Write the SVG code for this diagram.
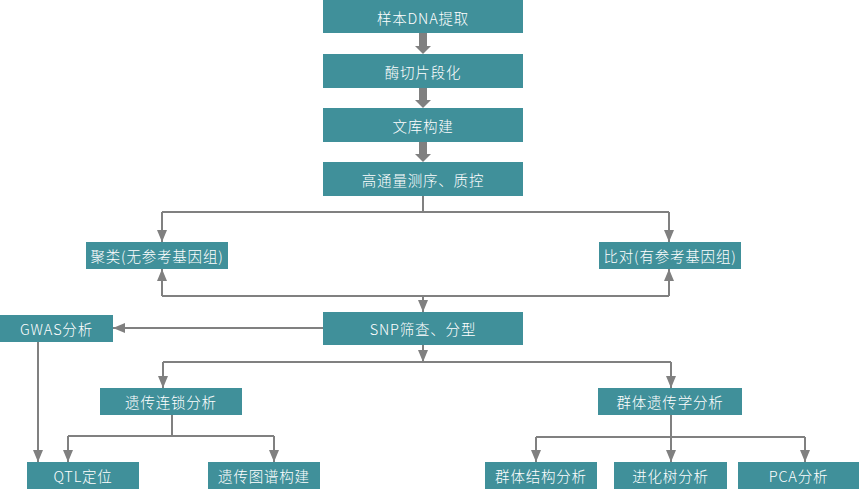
<svg xmlns="http://www.w3.org/2000/svg" width="859" height="489" viewBox="0 0 859 489">
<defs>
<style>
.box{fill:#40909a;}
.t{fill:#ffffff;font-family:"Noto Sans CJK SC","Noto Sans",sans-serif;font-size:14.5px;font-weight:300;letter-spacing:0.8px;text-anchor:middle;dominant-baseline:central;}
.ln{fill:none;stroke:#808080;stroke-width:2;}
.thick{fill:#808080;}
</style>
<marker id="ah" viewBox="0 0 12 10" refX="12" refY="5" markerWidth="12" markerHeight="10" markerUnits="userSpaceOnUse" orient="auto">
<path d="M0,0 L12,5 L0,10 Z" fill="#808080"/>
</marker>
</defs>
<rect width="859" height="489" fill="#ffffff"/>
<g id="connectors">
<path class="thick" d="M419,33 H427 V46 H431 L423,54 L415,46 H419 Z"/>
<path class="thick" d="M419,88 H427 V100 H431 L423,108 L415,100 H419 Z"/>
<path class="thick" d="M419,142 H427 V154 H431 L423,162 L415,154 H419 Z"/>
<path class="ln" d="M423,196 V212 M162,212 H669"/>
<path class="ln" d="M162,212 V242" marker-end="url(#ah)"/>
<path class="ln" d="M669,212 V242" marker-end="url(#ah)"/>
<path class="ln" d="M162,296 H669"/>
<path class="ln" d="M162,296 V269" marker-end="url(#ah)"/>
<path class="ln" d="M669,296 V269" marker-end="url(#ah)"/>
<path class="ln" d="M423,296 V312" marker-end="url(#ah)"/>
<path class="ln" d="M323,328 H113" marker-end="url(#ah)"/>
<path class="ln" d="M423,345 V362" marker-end="url(#ah)"/>
<path class="ln" d="M163,362 H671"/>
<path class="ln" d="M163,362 V388" marker-end="url(#ah)"/>
<path class="ln" d="M671,362 V388" marker-end="url(#ah)"/>
<path class="ln" d="M38,342 V462" marker-end="url(#ah)"/>
<path class="ln" d="M172,415 V436 M68,436 H274"/>
<path class="ln" d="M68,436 V462" marker-end="url(#ah)"/>
<path class="ln" d="M274,436 V462" marker-end="url(#ah)"/>
<path class="ln" d="M536,437 H805"/>
<path class="ln" d="M671,415 V462" marker-end="url(#ah)"/>
<path class="ln" d="M536,437 V462" marker-end="url(#ah)"/>
<path class="ln" d="M805,437 V462" marker-end="url(#ah)"/>
</g>
<g id="n1"><rect class="box" x="323" y="0" width="200" height="33"/><text class="t" x="423" y="17">样本DNA提取</text></g>
<g id="n2"><rect class="box" x="323" y="54" width="200" height="34"/><text class="t" x="423" y="71">酶切片段化</text></g>
<g id="n3"><rect class="box" x="323" y="108" width="200" height="34"/><text class="t" x="423" y="125">文库构建</text></g>
<g id="n4"><rect class="box" x="323" y="162" width="200" height="34"/><text class="t" x="423" y="179">高通量测序、质控</text></g>
<g id="n5"><rect class="box" x="86" y="242" width="142" height="27"/><text class="t" x="157" y="255.5">聚类(无参考基因组)</text></g>
<g id="n6"><rect class="box" x="599" y="242" width="142" height="27"/><text class="t" x="670" y="255.5">比对(有参考基因组)</text></g>
<g id="n7"><rect class="box" x="323" y="312" width="200" height="33"/><text class="t" x="423" y="328.5">SNP筛查、分型</text></g>
<g id="n8"><rect class="box" x="0" y="315" width="113" height="27"/><text class="t" x="56.5" y="328.5">GWAS分析</text></g>
<g id="n9"><rect class="box" x="100" y="388" width="142" height="27"/><text class="t" x="171" y="401.5">遗传连锁分析</text></g>
<g id="n10"><rect class="box" x="598" y="388" width="144" height="27"/><text class="t" x="670" y="401.5">群体遗传学分析</text></g>
<g id="n11"><rect class="box" x="27" y="462" width="112" height="27"/><text class="t" x="83" y="475.5">QTL定位</text></g>
<g id="n12"><rect class="box" x="208" y="462" width="112" height="27"/><text class="t" x="264" y="475.5">遗传图谱构建</text></g>
<g id="n13"><rect class="box" x="485" y="462" width="112" height="27"/><text class="t" x="541" y="475.5">群体结构分析</text></g>
<g id="n14"><rect class="box" x="614" y="462" width="113" height="27"/><text class="t" x="670.5" y="475.5">进化树分析</text></g>
<g id="n15"><rect class="box" x="738" y="462" width="121" height="27"/><text class="t" x="798.5" y="475.5">PCA分析</text></g>
</svg>
